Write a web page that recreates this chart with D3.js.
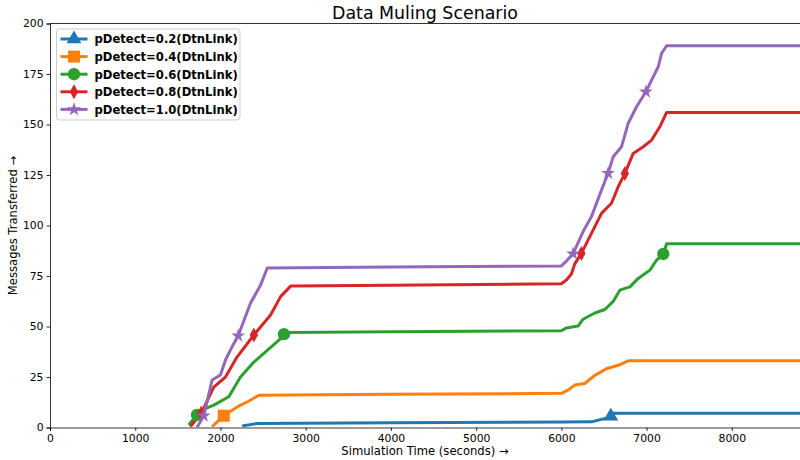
<!DOCTYPE html>
<html>
<head>
<meta charset="utf-8">
<script src="https://cdn.jsdelivr.net/npm/d3@7"></script>
<style>
    body { margin: 0; background: #fff; }
    svg { display: block; font-family: "DejaVu Sans", sans-serif; }
</style>
</head>
<body>
<svg id="chart" width="800" height="460"></svg>
<script>
    // series data: [time (s), messages transferred]
    var p02 = [[2255, 0.8], [2431, 2], [4000, 2.4], [6000, 2.7], [6353, 2.8], [6580, 5.2], [6590, 7], [8800, 7]];
    var p04 = [[1902, 0.4], [2039, 5.8], [2196, 10.2], [2330, 13], [2451, 16], [4000, 16.4], [6000, 16.9],
        [6078, 18.5], [6157, 21], [6274, 21.8], [6392, 25.8], [6529, 29.1], [6667, 30.8], [6784, 33], [8800, 33]];
    var p06 = [[1627, 1.2], [1725, 6.2], [1800, 9], [1922, 11.1], [2098, 15.2], [2235, 25], [2392, 32.4], [2549, 38.2],
        [2706, 44], [2745, 46.2], [2770, 47], [4000, 47.4], [6000, 47.9], [6059, 49.3], [6196, 50.2], [6255, 53.6],
        [6392, 56.7], [6510, 58.4], [6608, 62.4], [6686, 68], [6804, 69.6], [6902, 73.8], [7039, 77.9],
        [7118, 82.9], [7196, 85.9], [7235, 91], [8800, 91]];
    var p08 = [[1647, 0.4], [1773, 7], [1922, 20], [2059, 25], [2196, 35], [2392, 45.8], [2588, 55.7], [2706, 64.8],
        [2823, 70], [4000, 70.4], [6000, 71.2], [6059, 73], [6118, 76], [6157, 81], [6235, 86.2], [6353, 96.1],
        [6471, 106], [6588, 111], [6667, 119.2], [6745, 125.8], [6843, 135.7], [6961, 139], [7059, 142.3],
        [7157, 149], [7235, 156], [8800, 156]];
    var p10 = [[1725, 0], [1804, 5.8], [1902, 23.5], [2000, 26], [2059, 33.4], [2137, 40], [2208, 45.4], [2353, 61.6],
        [2471, 70.5], [2549, 79], [4000, 79.5], [6000, 80], [6059, 82.4], [6137, 86], [6255, 97], [6353, 104.4],
        [6471, 117.6], [6549, 125.9], [6608, 134], [6706, 139], [6784, 150.6], [6882, 158.8], [6992, 166.2],
        [7059, 172], [7137, 178.6], [7176, 185.2], [7235, 189], [8800, 189]];

    // marker points on each series
    var m02 = [[6580, 5.6]];
    var m04 = [[2039, 5.8]];
    var m06 = [[1725, 6.2], [2745, 46.2], [7196, 85.9]];
    var m08 = [[1773, 7], [2392, 45.8], [6235, 86.2], [6745, 125.8]];
    var m10 = [[1804, 5.8], [2208, 45.4], [6137, 86], [6549, 125.9], [6992, 166.2]];

    var seriesNames = ["pDetect=0.2(DtnLink)", "pDetect=0.4(DtnLink)", "pDetect=0.6(DtnLink)",
        "pDetect=0.8(DtnLink)", "pDetect=1.0(DtnLink)"];
    var xTicks = [0, 1000, 2000, 3000, 4000, 5000, 6000, 7000, 8000];
    var yTicks = [0, 25, 50, 75, 100, 125, 150, 175, 200];

    var colors = ["#1f77b4", "#ff7f0e", "#2ca02c", "#d62728", "#9467bd"];
    var diamond = {
        draw: function (ctx) {
            ctx.moveTo(0, -7.5); ctx.lineTo(4.2, 0); ctx.lineTo(0, 7.5); ctx.lineTo(-4.2, 0); ctx.closePath();
        }
    };
    var symbols = [
        d3.symbol(d3.symbolTriangle, 95),
        d3.symbol(d3.symbolSquare, 144),
        d3.symbol(d3.symbolCircle, 120),
        d3.symbol(diamond),
        d3.symbol(d3.symbolStar, 60)
    ];

    var series = [
        {name: seriesNames[0], values: p02, marks: m02},
        {name: seriesNames[1], values: p04, marks: m04},
        {name: seriesNames[2], values: p06, marks: m06},
        {name: seriesNames[3], values: p08, marks: m08},
        {name: seriesNames[4], values: p10, marks: m10}
    ];

    var svg = d3.select("#chart"),
        margin = {left: 50, top: 23.5, right: 800, bottom: 427.5};

    var x = d3.scaleLinear().domain([0, 8800]).range([margin.left, margin.right]),
        y = d3.scaleLinear().domain([0, 200]).range([margin.bottom, margin.top]);

    svg.append("defs").append("clipPath").attr("id", "clip")
        .append("rect")
        .attr("x", margin.left).attr("y", margin.top - 10)
        .attr("width", margin.right - margin.left).attr("height", margin.bottom - margin.top + 10);

    // axes
    var xAxis = svg.append("g")
        .attr("transform", "translate(0," + margin.bottom + ")")
        .call(d3.axisBottom(x).tickValues(xTicks).tickSize(3.5).tickPadding(3).tickFormat(d3.format("d")));
    var yAxis = svg.append("g")
        .attr("transform", "translate(" + margin.left + ",0)")
        .call(d3.axisLeft(y).tickValues(yTicks).tickSize(3.5).tickPadding(3).tickFormat(d3.format("d")));

    [xAxis, yAxis].forEach(function (g) {
        g.selectAll("text").attr("font-size", 10.8).attr("font-family", "DejaVu Sans").attr("fill", "#000");
        g.selectAll("line").attr("stroke", "#000").attr("stroke-width", 0.8);
        g.select(".domain").attr("stroke", "#000").attr("stroke-width", 0.8);
    });

    // top spine
    svg.append("line")
        .attr("x1", margin.left).attr("x2", margin.right)
        .attr("y1", margin.top).attr("y2", margin.top)
        .attr("stroke", "#000").attr("stroke-width", 0.8);

    // lines
    var line = d3.line()
        .x(function (d) { return x(d[0]); })
        .y(function (d) { return y(d[1]); });

    var plot = svg.append("g").attr("clip-path", "url(#clip)");

    series.forEach(function (s, i) {
        plot.append("path")
            .datum(s.values)
            .attr("d", line)
            .attr("fill", "none")
            .attr("stroke", colors[i])
            .attr("stroke-width", 3)
            .attr("stroke-linejoin", "round");
    });
    series.forEach(function (s, i) {
        plot.selectAll(".mk" + i)
            .data(s.marks)
            .enter().append("path")
            .attr("class", "mk" + i)
            .attr("transform", function (d) {
                return "translate(" + x(d[0]) + "," + y(d[1]) + ")";
            })
            .attr("d", symbols[i])
            .attr("fill", colors[i]);
    });

    // title and labels
    svg.append("text")
        .attr("x", 425).attr("y", 19)
        .attr("text-anchor", "middle")
        .attr("font-size", 17.4)
        .text("Data Muling Scenario");
    svg.append("text")
        .attr("x", 425).attr("y", 455)
        .attr("text-anchor", "middle")
        .attr("font-size", 11.6)
        .text("Simulation Time (seconds) \u2192");
    svg.append("text")
        .attr("transform", "translate(17," + ((margin.top + margin.bottom) / 2) + ") rotate(-90)")
        .attr("text-anchor", "middle")
        .attr("font-size", 11.6)
        .text("Messages Transferred \u2192");

    // legend
    var legend = svg.append("g").attr("transform", "translate(56.5,29)");
    legend.append("rect")
        .attr("width", 183.5).attr("height", 91)
        .attr("rx", 3)
        .attr("fill", "#fff").attr("fill-opacity", 0.8)
        .attr("stroke", "#ccc").attr("stroke-width", 1);

    var item = legend.selectAll(".item")
        .data(series)
        .enter().append("g")
        .attr("class", "item")
        .attr("transform", function (d, i) {
            return "translate(0," + (10 + i * 17.6) + ")";
        });
    item.append("line")
        .attr("x1", 4).attr("x2", 31)
        .attr("stroke", function (d, i) { return colors[i]; })
        .attr("stroke-width", 3);
    item.append("path")
        .attr("transform", "translate(17.5,0)")
        .attr("d", function (d, i) { return symbols[i](); })
        .attr("fill", function (d, i) { return colors[i]; });
    item.append("text")
        .attr("x", 38).attr("y", 4.3)
        .attr("font-size", 11.6)
        .attr("font-weight", "bold")
        .text(function (d) { return d.name; });
</script>
</body>
</html>
